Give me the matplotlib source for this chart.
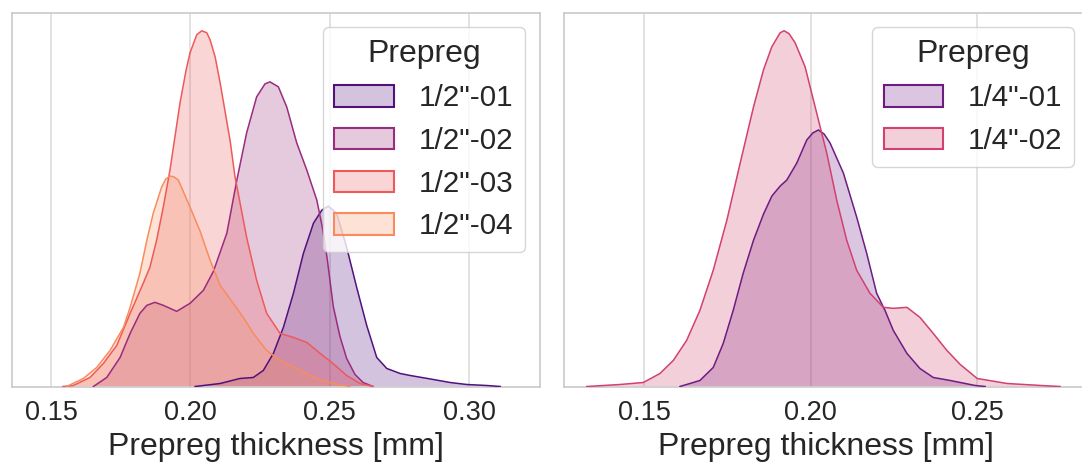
import matplotlib
matplotlib.use("Agg")
import matplotlib.pyplot as plt
from matplotlib.patches import Patch
from matplotlib.colors import to_rgba

# %% Data (heights in relative density units)
half_labels = ['1/2"-01', '1/2"-02', '1/2"-03', '1/2"-04']
quarter_labels = ['1/4"-01', '1/4"-02']

half01_x = [0.2017, 0.2107, 0.2178, 0.2226, 0.2262, 0.2298, 0.2334, 0.2370, 0.2406, 0.2442,
            0.2472, 0.2495, 0.2525, 0.2561, 0.2597, 0.2633, 0.2669, 0.2705, 0.2753, 0.2789,
            0.2872, 0.2932, 0.2992, 0.3064, 0.3112]
half01_y = [0, 3, 8, 9, 16, 33, 59, 93, 133, 163,
            176, 180, 173, 139, 99, 61, 29, 18, 13, 11,
            7, 4, 2, 1, 0]

half02_x = [0.1652, 0.1700, 0.1748, 0.1784, 0.1819, 0.1844, 0.1873, 0.1903, 0.1951, 0.1999,
            0.2047, 0.2083, 0.2131, 0.2167, 0.2202, 0.2238, 0.2268, 0.2286, 0.2316, 0.2346,
            0.2382, 0.2418, 0.2454, 0.2473, 0.2491, 0.2513, 0.2537, 0.2561, 0.2591, 0.2620, 0.2656]
half02_y = [0, 9, 29, 53, 73, 81, 84, 81, 75, 83,
            96, 115, 153, 206, 253, 289, 302, 304, 299, 279,
            243, 216, 186, 160, 128, 80, 50, 28, 12, 4, 0]

half03_x = [0.1543, 0.1580, 0.1640, 0.1688, 0.1736, 0.1784, 0.1831, 0.1855, 0.1879, 0.1903,
            0.1927, 0.1963, 0.1985, 0.1999, 0.2023, 0.2041, 0.2059, 0.2071, 0.2089, 0.2107,
            0.2143, 0.2160, 0.2202, 0.2238, 0.2274, 0.2322, 0.2370, 0.2418, 0.2466, 0.2512,
            0.2561, 0.2609, 0.2656]
half03_y = [0, 1, 9, 23, 41, 73, 103, 119, 146, 179,
            216, 283, 316, 333, 351, 355, 353, 346, 329, 303,
            245, 210, 149, 106, 73, 53, 49, 44, 33, 23,
            11, 3, 0]

half04_x = [0.1556, 0.1616, 0.1664, 0.1712, 0.1760, 0.1784, 0.1819, 0.1844, 0.1867, 0.1897,
            0.1912, 0.1927, 0.1942, 0.1957, 0.1999, 0.2035, 0.2071, 0.2107, 0.2154, 0.2190,
            0.2226, 0.2274, 0.2322, 0.2382, 0.2442, 0.2513, 0.2573]
half04_y = [0, 8, 19, 36, 59, 79, 113, 146, 173, 199,
            207, 210, 209, 206, 179, 155, 126, 101, 83, 69,
            53, 36, 26, 18, 9, 3, 0]

quarter01_x = [0.1607, 0.1667, 0.1707, 0.1737, 0.1767, 0.1797, 0.1828, 0.1858, 0.1883, 0.1908,
               0.1928, 0.1958, 0.1988, 0.2006, 0.2023, 0.2040, 0.2058, 0.2098, 0.2138, 0.2168,
               0.2198, 0.2223, 0.2248, 0.2289, 0.2328, 0.2368, 0.2419, 0.2449, 0.2494, 0.2524]
quarter01_y = [0, 6, 19, 43, 76, 113, 146, 172, 190, 200,
               206, 223, 246, 253, 256, 252, 243, 213, 169, 133,
               93, 76, 56, 33, 18, 9, 6, 4, 1, 0]

quarter02_x = [0.1327, 0.1427, 0.1497, 0.1547, 0.1587, 0.1627, 0.1667, 0.1707, 0.1748, 0.1788,
               0.1828, 0.1858, 0.1883, 0.1908, 0.1920, 0.1935, 0.1953, 0.1983, 0.2023, 0.2048,
               0.2078, 0.2108, 0.2138, 0.2178, 0.2218, 0.2248, 0.2289, 0.2328, 0.2368, 0.2409,
               0.2449, 0.2500, 0.2590, 0.2692, 0.2749]
quarter02_y = [0, 2, 4, 13, 26, 46, 76, 116, 166, 223,
               279, 316, 339, 353, 355, 352, 343, 319, 266, 233,
               186, 146, 116, 93, 79, 78, 79, 69, 53, 36,
               22, 8, 3, 1, 0]

half_colors = ["#51127c", "#9a2c7e", "#ee5a5a", "#f98c5e"]
quarter_colors = ["#6e1c84", "#d2416f"]

# %% Style
plt.rcParams["font.family"] = ["Liberation Sans", "DejaVu Sans"]
plt.rcParams["text.color"] = "#262626"
plt.rcParams["xtick.color"] = "#262626"
plt.rcParams["axes.labelcolor"] = "#262626"

fig = plt.figure(figsize=(10.82, 4.65), dpi=100)
ax1 = fig.add_axes([12 / 1082, 1 - 386.5 / 465, 528 / 1082, 373.8 / 465])
ax2 = fig.add_axes([563.8 / 1082, 1 - 386.5 / 465, 525.2 / 1082, 373.8 / 465])


def draw_kde(ax, xs, ys, color, label):
    ax.fill_between(xs, ys, 0, facecolor=to_rgba(color, 0.25), edgecolor="none", zorder=2)
    ax.plot(xs, ys, color=color, lw=1.1, zorder=3, solid_joinstyle="round")
    return Patch(facecolor=to_rgba(color, 0.25), edgecolor=color, lw=1.5, label=label)


half_series = [(half01_x, half01_y), (half02_x, half02_y), (half03_x, half03_y), (half04_x, half04_y)]
handles1 = [draw_kde(ax1, x, y, c, l) for (x, y), c, l in zip(half_series, half_colors, half_labels)]

quarter_series = [(quarter01_x, quarter01_y), (quarter02_x, quarter02_y)]
handles2 = [draw_kde(ax2, x, y, c, l) for (x, y), c, l in zip(quarter_series, quarter_colors, quarter_labels)]

for ax, xlim, ticks in [(ax1, (0.1360, 0.3255), [0.15, 0.20, 0.25, 0.30]),
                        (ax2, (0.1258, 0.2836), [0.15, 0.20, 0.25])]:
    ax.set_xlim(*xlim)
    ax.set_ylim(0, 373)
    ax.set_xticks(ticks)
    ax.set_xticklabels([f"{t:.2f}" for t in ticks])
    ax.set_yticks([])
    ax.tick_params(axis="x", labelsize=19.5, length=0, pad=10)
    ax.grid(axis="x", color="#dddddd", lw=1.2, zorder=0)
    ax.set_axisbelow(True)
    for s in ax.spines.values():
        s.set_color("#cccccc")
        s.set_linewidth(1.25)
    ax.set_xlabel("Prepreg thickness [mm]", fontsize=23, labelpad=4)

for ax, h in [(ax1, handles1), (ax2, handles2)]:
    leg = ax.legend(handles=h, title="Prepreg", loc="upper right", fontsize=21.3,
                    title_fontsize=23, frameon=True, fancybox=True, framealpha=0.8,
                    edgecolor="#cccccc", handlelength=2.0, handleheight=0.75,
                    labelspacing=0.5, handletextpad=0.85, borderpad=0.4)
    leg.get_frame().set_linewidth(1.0)

fig.savefig("out.png", dpi=100)
